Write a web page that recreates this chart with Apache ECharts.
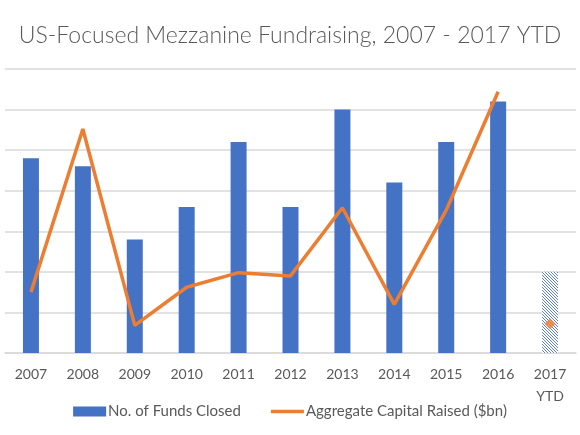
<!DOCTYPE html>
<html>
<head>
<meta charset="utf-8">
<script src="https://cdn.jsdelivr.net/npm/echarts@6/dist/echarts.min.js"></script>
<style>
html,body{margin:0;padding:0;background:#fff;}
#chart{width:580px;height:435px;}
</style>
</head>
<body>
<div id="chart"></div>
<script>
const categories = ['2007','2008','2009','2010','2011','2012','2013','2014','2015','2016','2017\nYTD'];
const fundsClosed = [24, 23, 14, 18, 26, 18, 30, 21, 26, 31, 10];
const capitalRaised = [7.5, 27.6, 3.4, 8.1, 9.9, 9.5, 17.9, 6.0, 17.6, 32.2, null];
const capitalYTD = [null, null, null, null, null, null, null, null, null, null, 3.6];

function hatch() {
  const c = document.createElement('canvas');
  c.width = 3; c.height = 3;
  const g = c.getContext('2d');
  g.fillStyle = '#ffffff';
  g.fillRect(0, 0, 3, 3);
  g.strokeStyle = '#5b84cc';
  g.lineWidth = 1;
  g.beginPath();
  g.moveTo(0, 0); g.lineTo(3, 3);
  g.moveTo(-1.5, 1.5); g.lineTo(1.5, 4.5);
  g.moveTo(1.5, -1.5); g.lineTo(4.5, 1.5);
  g.stroke();
  return c;
}
const hatchPattern = { image: hatch(), repeat: 'repeat' };

const barData = fundsClosed.map((v, i) => i === fundsClosed.length - 1
  ? { value: v, itemStyle: { color: hatchPattern } } : v);

const chart = echarts.init(document.getElementById('chart'), null, { renderer: 'canvas' });
const FONT = 'Lato, "Noto Sans", sans-serif';
chart.setOption({
  animation: false,
  textStyle: { fontFamily: FONT },
  title: {
    text: 'US-Focused Mezzanine Fundraising, 2007 - 2017 YTD',
    left: 'center', top: 19,
    textStyle: { fontFamily: FONT, fontSize: 23, fontWeight: 300, color: '#595959' }
  },
  grid: { left: 5, right: 4, top: 69, bottom: 82 },
  legend: {
    bottom: 11, left: 'center', itemGap: 30, itemWidth: 33, itemHeight: 10,
    textStyle: { fontFamily: FONT, fontSize: 15, color: '#595959', padding: [0,0,0,-3] },
    data: [
      { name: 'No. of Funds Closed', icon: 'rect' },
      { name: 'Aggregate Capital Raised ($bn)', icon: 'path://M0,0H33V3.5H0Z', itemStyle: { color: '#ED7D31' } }
    ]
  },
  xAxis: {
    type: 'category', data: categories,
    axisLine: { lineStyle: { color: '#d9d9d9', width: 1.5 } },
    axisTick: { show: false },
    axisLabel: { fontFamily: FONT, fontSize: 14, color: '#595959', margin: 10, interval: 0, lineHeight: 22 }
  },
  yAxis: {
    type: 'value', min: 0, max: 35, interval: 5,
    axisLabel: { show: false }, axisLine: { show: false }, axisTick: { show: false },
    splitLine: { lineStyle: { color: '#d9d9d9', width: 1.5 } }
  },
  series: [
    { name: 'No. of Funds Closed', type: 'bar', data: barData, barWidth: 16,
      itemStyle: { color: '#4472C4' } },
    { name: 'Aggregate Capital Raised ($bn)', type: 'line', data: capitalRaised,
      symbol: 'none', lineStyle: { color: '#ED7D31', width: 3.5 }, itemStyle: { color: '#ED7D31' },
      connectNulls: false },
    { name: 'YTD Capital', type: 'scatter', data: capitalYTD, symbol: 'diamond', symbolSize: 11,
      itemStyle: { color: '#ED7D31' } }
  ]
});
</script>
</body>
</html>
